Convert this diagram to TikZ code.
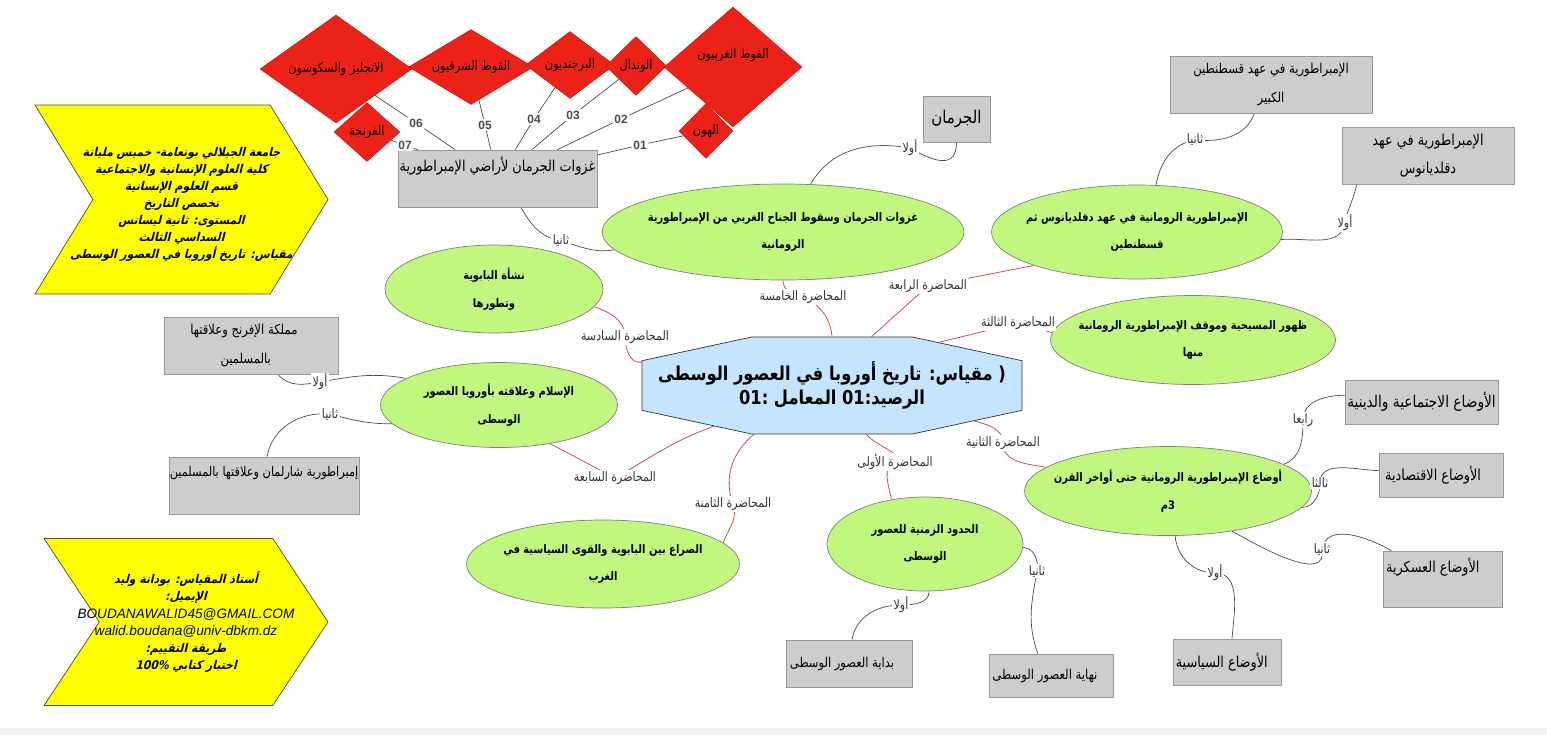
\documentclass[tikz,border=0pt]{standalone}
\usepackage{fontspec}
\setmainfont{DejaVu Sans}
\newfontfamily\arabicfont[Script=Arabic,FakeStretch=0.85]{DejaVu Sans}
\newfontfamily\arabicslant[Script=Arabic,FakeSlant=0.25,FakeStretch=0.9]{DejaVu Sans}
\newfontfamily\numfont{Liberation Sans}
\TeXXeTstate=1
\usetikzlibrary{shapes.geometric,shapes.symbols,shapes.misc,backgrounds}
\definecolor{mapgreen}{RGB}{193,246,127}
\definecolor{mapgray}{RGB}{205,205,205}
\definecolor{mapblue}{RGB}{197,229,255}
\definecolor{mapred}{RGB}{236,34,24}
\definecolor{mapyellow}{RGB}{255,255,0}
\definecolor{stripgray}{RGB}{240,240,240}
\definecolor{linkred}{RGB}{200,80,80}
\newcommand{\ar}[2][0pt]{\makebox[0pt]{\hspace*{#1}\arabicfont\beginR #2\endR}}
\newcommand{\arit}[1]{\makebox[0pt]{\arabicslant\bfseries\beginR #1\endR}}
\newcommand{\latit}[1]{\makebox[0pt]{\numfont\itshape\fontsize{7.75}{9.7}\selectfont #1}}
\newcommand{\fs}[1]{\fontsize{#1}{16}\selectfont}
\tikzset{
    sized/.style 2 args={minimum width=#1*0.02cm, minimum height=#2*0.02cm},
    lecture/.style={ellipse, draw=gray, fill=mapgreen, inner sep=0pt, align=center, font=\bfseries\fontsize{6.65}{15.5}\selectfont},
    topic/.style={rectangle, draw=gray!80, fill=mapgray, inner sep=0pt, align=center, font=\fontsize{8.6}{16}\selectfont},
    tribe/.style={diamond, draw=mapred!70!black, line width=0.2pt, fill=mapred, inner sep=0pt, align=center, font=\fontsize{7.6}{16}\selectfont},
    info/.style={signal, signal to=east, signal from=west, signal pointer angle=117, draw=black!70, fill=mapyellow, inner sep=0pt, align=center, font=\fontsize{6.85}{9.7}\selectfont},
    tag/.style={fill=white, inner sep=0.8pt, text=black!80, font=\fontsize{7.4}{8}\selectfont},
    numtag/.style={fill=white, inner sep=0.8pt, text=black!70, font=\numfont\bfseries\fontsize{6.8}{8}\selectfont},
    redlink/.style={draw=linkred, line width=0.45pt},
    graylink/.style={draw=black!70, line width=0.4pt}
}

\begin{document}
\begin{tikzpicture}[x=0.02cm,y=-0.02cm]
    \useasboundingbox (0,0) rectangle (1547,735);
    \fill[stripgray] (0,728) rectangle (1547,735);

    % Central node
    \node[chamfered rectangle, chamfered rectangle angle=77.8, chamfered rectangle xsep=132*0.02cm, chamfered rectangle ysep=28.5*0.02cm,
        draw=black!80, fill=mapblue, inner sep=0pt, sized={380}{97}, align=center,
        font=\bfseries\fontsize{10.9}{13.5}\selectfont] (hub) at (832,385.5)
        {\ar{\beginL(\endL\ مقياس: تاريخ أوروبا في العصور الوسطى}\\
         \ar{الرصيد:\beginL 01\endL\ المعامل :\beginL 01\endL}};

    % Lectures
    \node[lecture, sized={362}{96}] (fall) at (783,232) {\ar{غزوات الجرمان وسقوط الجناح الغربي من الإمبراطورية}\\\ar{الرومانية}};
    \node[lecture, sized={291}{94}] (byz) at (1137,232) {\ar{الإمبراطورية الرومانية في عهد دقلديانوس ثم}\\\ar{قسطنطين}};
    \node[lecture, sized={285}{89}] (christ) at (1193,340) {\ar{ظهور المسيحية وموقف الإمبراطورية الرومانية}\\\ar{منها}};
    \node[lecture, sized={218}{88}] (papacy) at (494,289) {\ar{نشأة البابوية}\\\ar{وتطورها}};
    \node[lecture, sized={237}{85}] (islam) at (499,405) {\ar{الإسلام وعلاقته بأوروبا العصور}\\\ar{الوسطى}};
    \node[lecture, sized={287}{89}] (third) at (1168,491) {\ar{أوضاع الإمبراطورية الرومانية حتى أواخر القرن}\\\ar{3م}};
    \node[lecture, sized={196}{94}] (chrono) at (925,544) {\ar{الحدود الزمنية للعصور}\\\ar{الوسطى}};
    \node[lecture, sized={273}{88}] (conflict) at (603,564) {\ar{الصراع بين البابوية والقوى السياسية في}\\\ar{الغرب}};

    % Topics
    \node[topic, sized={199}{57}] (germ) at (497.5,178.5) {\ar{غزوات الجرمان لأراضي الإمبراطورية}\\\ };
    \node[topic, sized={67}{46}, font=\fs{10}] (germans) at (956.5,119) {\ar{الجرمان}};
    \node[topic, sized={202}{57}, font=\fs{7.8}] (constantine) at (1271,84.5) {\ar{الإمبراطورية في عهد قسطنطين}\\\ar{الكبير}};
    \node[topic, sized={172}{57}] (diocletian) at (1428,155.5) {\ar{الإمبراطورية في عهد}\\\ar{دقلديانوس}};
    \node[topic, sized={174}{57}, font=\fs{7.8}] (ifranj) at (251,345.5) {\ar[-8pt]{مملكة الإفرنج وعلاقتها}\\\ar[-6pt]{بالمسلمين}};
    \node[topic, sized={190}{57}, font=\fs{7.6}] (charles) at (264,485.5) {\ar{إمبراطورية شارلمان وعلاقتها بالمسلمين}\\\ };
    \node[topic, sized={153}{44}, font=\fs{9.2}] (social) at (1421.5,402) {\ar{الأوضاع الاجتماعية والدينية}};
    \node[topic, sized={124}{44}] (economy) at (1441,475) {\ar[-9pt]{الأوضاع الاقتصادية}};
    \node[topic, sized={119}{56}] (army) at (1442.5,579) {\ar[-11pt]{الأوضاع العسكرية}\\\ };
    \node[topic, sized={108}{46}] (politics) at (1227,662) {\ar[-6pt]{الأوضاع السياسية}};
    \node[topic, sized={124}{43}, font=\fs{7.8}] (ending) at (1051,675.5) {\ar[-7pt]{نهاية العصور الوسطى}};
    \node[topic, sized={126}{47}, font=\fs{7.7}] (opening) at (849,663.5) {\ar[-8pt]{بداية العصور الوسطى}};

    % Tribes
    \node[tribe, sized={152}{108}] (angles) at (336,69) {\ar{الانجليز والسكوسون}};
    \node[tribe, sized={125}{75}] (ostro) at (471,67) {\ar{القوط الشرقيون}};
    \node[tribe, sized={89}{67}] (burgund) at (570,65) {\ar{البرجنديون}};
    \node[tribe, sized={61}{59}] (vandals) at (636,66) {\ar{الوندال}};
    \node[tribe, sized={138}{120}] (visi) at (733,67) {\ar{القوط الغربيون}\\\ };
    \node[tribe, sized={54}{55}] (huns) at (706,131) {\ar{الهون}};
    \node[tribe, sized={66}{59}] (franks) at (367,132) {\ar{الفرنجة}};

    % Info arrows
    \node[info, sized={293}{189}] (college) at (181.5,199.5)
        {\rule{0pt}{11pt}\arit{جامعة الجيلالي بونعامة- خميس مليانة}\\\arit{كلية العلوم الإنسانية والاجتماعية}\\
         \arit{قسم العلوم الإنسانية}\\\arit{تخصص التاريخ}\\\arit{المستوى: ثانية ليسانس}\\
         \arit{السداسي الثالث}\\\arit{مقياس: تاريخ أوروبا في العصور الوسطى}};
    \node[info, sized={284}{167}, signal pointer angle=113] (teacher) at (186,622)
        {\arit{أستاذ المقياس: بودانة وليد}\\\arit{الإيميل:}\\
         \latit{BOUDANAWALID45@GMAIL.COM}\\\latit{walid.boudana@univ-dbkm.dz}\\
         \arit{طريقة التقييم:}\\\arit{اختبار كتابي \beginL 100\%\endL}};

    % Lecture labels
    \foreach \name/\x/\y/\txt in {l1/895/462/المحاضرة الأولى, l2/1003/443/المحاضرة الثانية,
        l3/1018/323/المحاضرة الثالثة, l4/928/286/المحاضرة الرابعة, l5/803/297/المحاضرة الخامسة,
        l6/625/337/المحاضرة السادسة, l7/615/478/المحاضرة السابعة, l8/733/504/المحاضرة الثامنة}
        \node[tag] (\name) at (\x,\y) {\arabicfont\beginR\txt\endR};

    % Order labels
    \foreach \name/\x/\y/\txt in {aFall/910/148/أولا, bFall/561/241/ثانيا, aByz/1345/223/أولا, bByz/1195/140/ثانيا,
        aIslam/320/382/أولا, bIslam/330/414/ثانيا, aThird/1215/573/أولا, bThird/1322/549/ثانيا,
        cThird/1320/483/ثالثا, dThird/1303/420/رابعا, aChrono/901/605/أولا, bChrono/1037/571/ثانيا}
        \node[tag] (\name) at (\x,\y) {\arabicfont\beginR\txt\endR};

    % Tribe numbers
    \foreach \i/\x/\y in {01/640/145, 02/621/119, 03/573/115, 04/534/119, 05/485/125, 06/416/123, 07/405/145}
        \node[numtag] (n\i) at (\x,\y) {\i};

    \begin{scope}[on background layer]
        % Connections from hub to lectures
        \draw[redlink] (hub.north) to[out=95,in=-25] (l5.center) to[out=170,in=-90] (fall.south);
        \draw[redlink] (hub.51) -- (l4.center) -- (byz.198);
        \draw[redlink] (hub.22) -- (l3.center) -- (christ.177);
        \draw[redlink] (hub.-14) to[out=-15,in=90] (l2.center) to[out=-90,in=170] (third.169);
        \draw[redlink] (hub.-55) to[out=-50,in=20] (l1.center) to[out=200,in=100] (chrono.127);
        \draw[redlink] (hub.212) to[out=220,in=110] (l8.center) to[out=-70,in=70] (conflict.10);
        \draw[redlink] (hub.199) to[out=200,in=30] (l7.center) -- (islam.-37);
        \draw[redlink] (hub.173) to[out=190,in=-90] (l6.center) to[out=90,in=-20] (papacy.-10);

        % Connections from lectures to topics
        \draw[graylink] (germ.-51) to[out=-60,in=170] (bFall.center) to[out=-15,in=190] (fall.186);
        \draw[graylink] (fall.60) to[out=60,in=170] (aFall.center) to[out=-30,in=-90,looseness=1.5] (germans.south);
        \draw[graylink] (byz.68) to[out=80,in=190] (bByz.center) to[out=-5,in=-110] (constantine.-120);
        \draw[graylink] (byz.-3) to[out=5,in=-100] (aByz.center) to[out=80,in=-100] (diocletian.202);
        \draw[graylink] (islam.164) to[out=170,in=10] (aIslam.center) to[out=190,in=-50] (ifranj.-47);
        \draw[graylink] (islam.190) to[out=180,in=-15] (bIslam.center) to[out=175,in=80] (charles.84);
        \draw[graylink] (third.13) to[out=20,in=-90] (dThird.center) to[out=90,in=180] (social.175);
        \draw[graylink] (third.-7) to[out=0,in=-90] (cThird.center) to[out=90,in=178] (economy.176);
        \draw[graylink] (third.-32) to[out=-30,in=-80] (bThird.center) to[out=80,in=150] (army.151);
        \draw[graylink] (third.-81) to[out=-85,in=180] (aThird.center) to[out=0,in=85] (politics.78);
        \draw[graylink] (chrono.-85) to[out=-90,in=0] (aChrono.center) to[out=180,in=80] (opening.83);
        \draw[graylink] (chrono.-2) to[out=0,in=80] (bChrono.center) to[out=-100,in=110] (ending.121);

        % Connections from box to tribes
        \foreach \i/\tribe in {01/huns, 02/visi, 03/vandals, 04/burgund, 05/ostro, 06/angles, 07/franks}
            \draw[graylink] (germ) -- (n\i) -- (\tribe);
    \end{scope}
\end{tikzpicture}
\end{document}
